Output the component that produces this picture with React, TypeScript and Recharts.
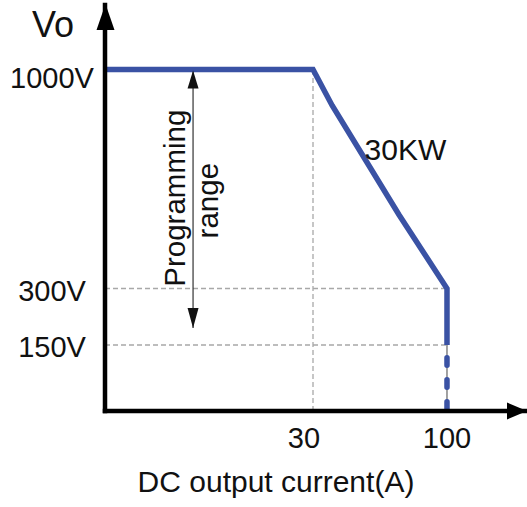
import React from 'react';
import { LineChart, Line, XAxis, YAxis, ReferenceLine, ReferenceDot } from 'recharts';

// output envelope (A, V)
const currentA = [0, 30, 40, 58, 75, 100, 100];
const voltageV = [1000, 1000, 885, 705, 535, 300, 150];
// extended (dashed) part below 150V
const tailCurrentA = [100, 100];
const tailVoltageV = [150, 0];

const xTicks = [30, 100];
const yTicks = [150, 300, 1000];
const yTickLabels = ['150V', '300V', '1000V'];

const X_MAX = 140;
const Y_MAX = 1200;
const ARROW_I = 12.7;
const ARROW_LOW_V = 195;

const envelope = currentA.map((a, i) => ({ a, v: voltageV[i] }));
const tail = tailCurrentA.map((a, i) => ({ a, v: tailVoltageV[i] }));

const FONT = '"Liberation Sans", Arial, sans-serif';
const BLUE = '#3a52a4';
const GRID = '#a8a8a8';

// the drawing is schematic: piecewise-linear axis between the marked values
function piecewiseScale(values: number[], fractions: number[]) {
  let domain = [values[0], values[values.length - 1]];
  let range = [0, 1];
  const frac = (v: number) => {
    let i = 0;
    while (i < values.length - 2 && v > values[i + 1]) i++;
    const t = (v - values[i]) / (values[i + 1] - values[i]);
    return fractions[i] + t * (fractions[i + 1] - fractions[i]);
  };
  const scale: any = (v: number) => range[0] + (range[1] - range[0]) * frac(v);
  scale.domain = (d?: number[]) => {
    if (d === undefined) return domain.slice();
    domain = d.slice();
    return scale;
  };
  scale.range = (r?: number[]) => {
    if (r === undefined) return range.slice();
    range = r.slice();
    return scale;
  };
  scale.copy = () => piecewiseScale(values, fractions).domain(domain).range(range);
  scale.ticks = () => values.slice();
  scale.tickFormat = () => (v: number) => String(v);
  scale.nice = () => scale;
  scale.clamp = () => scale;
  return scale;
}

const xScale = piecewiseScale([0, 30, 100, X_MAX], [0, 0.4929, 0.8104, 1]);
const yScale = piecewiseScale([0, 150, 300, 1000, Y_MAX], [0, 0.1626, 0.3017, 0.8411, 1]);

const textStyle = { fontFamily: FONT, fill: '#111' };

const XTick = ({ x, y, payload }: any) => (
  <text x={x + (payload.value === 30 ? -9 : 0)} y={y + 37} textAnchor="middle" fontSize={29} style={textStyle}>
    {payload.value}
  </text>
);

const YTick = ({ x, y, payload }: any) => (
  <text x={x - 53} y={y + (payload.value === 1000 ? 18 : 12.5)} textAnchor="middle" fontSize={29} style={textStyle}>
    {yTickLabels[yTicks.indexOf(payload.value)]}
  </text>
);

const shape = (render: (cx: number, cy: number) => React.ReactElement) => (p: any) => render(p.cx, p.cy);

export default function App() {
  return (
    <div style={{ position: 'absolute', left: 0, top: 0, background: '#fff' }}>
      <LineChart width={527} height={507} margin={{ top: 5, right: 0, bottom: 0, left: 0 }}>
        <XAxis
          dataKey="a"
          type="number"
          domain={[0, X_MAX]}
          scale={xScale}
          ticks={xTicks}
          tick={<XTick />}
          tickLine={false}
          tickSize={0}
          tickMargin={0}
          height={96}
          axisLine={{ stroke: '#000', strokeWidth: 4.5, strokeLinecap: 'square' }}
        />
        <YAxis
          dataKey="v"
          type="number"
          domain={[0, Y_MAX]}
          scale={yScale}
          ticks={yTicks}
          tick={<YTick />}
          tickLine={false}
          tickSize={0}
          tickMargin={0}
          width={105}
          axisLine={{ stroke: '#000', strokeWidth: 4.5, strokeLinecap: 'square' }}
        />

        <ReferenceLine segment={[{ x: 0, y: 300 }, { x: 100, y: 300 }]} stroke={GRID} strokeWidth={1.3} strokeDasharray="5 3" ifOverflow="visible" />
        <ReferenceLine segment={[{ x: 0, y: 150 }, { x: 100, y: 150 }]} stroke={GRID} strokeWidth={1.3} strokeDasharray="5 3" ifOverflow="visible" />
        <ReferenceLine segment={[{ x: 30, y: 0 }, { x: 30, y: 1000 }]} stroke={GRID} strokeWidth={1.3} strokeDasharray="5 3" ifOverflow="visible" />
        <ReferenceLine segment={[{ x: ARROW_I, y: 1000 }, { x: ARROW_I, y: ARROW_LOW_V }]} stroke="#333" strokeWidth={1.2} ifOverflow="visible" />

        <Line data={tail} dataKey="v" stroke="#444" strokeWidth={1} dot={false} isAnimationActive={false} />
        <Line data={tail} dataKey="v" stroke={BLUE} strokeWidth={5.5} strokeDasharray="7.5 14.5" strokeDashoffset={9.25} strokeLinecap="round" dot={false} isAnimationActive={false} />
        <Line data={envelope} dataKey="v" stroke={BLUE} strokeWidth={5.5} strokeLinejoin="miter" dot={false} isAnimationActive={false} />

        {/* axis arrowheads */}
        <ReferenceDot x={0} y={Y_MAX} r={0} ifOverflow="visible"
          shape={shape((cx, cy) => <polygon points={`${cx + 0.5},${cy - 1} ${cx - 8.5},${cy + 25} ${cx + 9.5},${cy + 25}`} fill="#000" />)} />
        <ReferenceDot x={X_MAX} y={0} r={0} ifOverflow="visible"
          shape={shape((cx, cy) => <polygon points={`${cx},${cy} ${cx - 20},${cy - 8.5} ${cx - 20},${cy + 8.5}`} fill="#000" />)} />

        {/* programming range arrow */}
        <ReferenceDot x={ARROW_I} y={1000} r={0} ifOverflow="visible"
          shape={shape((cx, cy) => <polygon points={`${cx},${cy + 1} ${cx - 5.5},${cy + 19} ${cx + 5.5},${cy + 19}`} fill="#111" />)} />
        <ReferenceDot x={ARROW_I} y={ARROW_LOW_V} r={0} ifOverflow="visible"
          shape={shape((cx, cy) => <polygon points={`${cx},${cy} ${cx - 5.5},${cy - 20} ${cx + 5.5},${cy - 20}`} fill="#111" />)} />
        <ReferenceDot x={ARROW_I} y={600} r={0} ifOverflow="visible"
          shape={shape((cx, cy) => (
            <g style={textStyle} fontSize={29.5}>
              <text x={cx - 8} y={cy + 3.5} textAnchor="middle" transform={`rotate(-90 ${cx - 8} ${cy + 3.5})`}>Programming</text>
              <text x={cx + 25} y={cy + 6} textAnchor="middle" transform={`rotate(-90 ${cx + 25} ${cy + 6})`}>range</text>
            </g>
          ))} />

        {/* texts */}
        <ReferenceDot x={58} y={705} r={0} ifOverflow="visible"
          shape={shape((cx, cy) => <text x={cx - 2} y={cy - 2} fontSize={30} style={textStyle}>30KW</text>)} />
        <ReferenceDot x={0} y={Y_MAX} r={0} ifOverflow="visible"
          shape={shape((cx, cy) => <text x={cx - 73} y={cy + 32} fontSize={36} style={textStyle}>Vo</text>)} />
        <ReferenceDot x={0} y={0} r={0} ifOverflow="visible"
          shape={shape((cx, cy) => <text x={cx + 171} y={cy + 81} textAnchor="middle" fontSize={30} style={textStyle}>DC output current(A)</text>)} />
      </LineChart>
    </div>
  );
}
